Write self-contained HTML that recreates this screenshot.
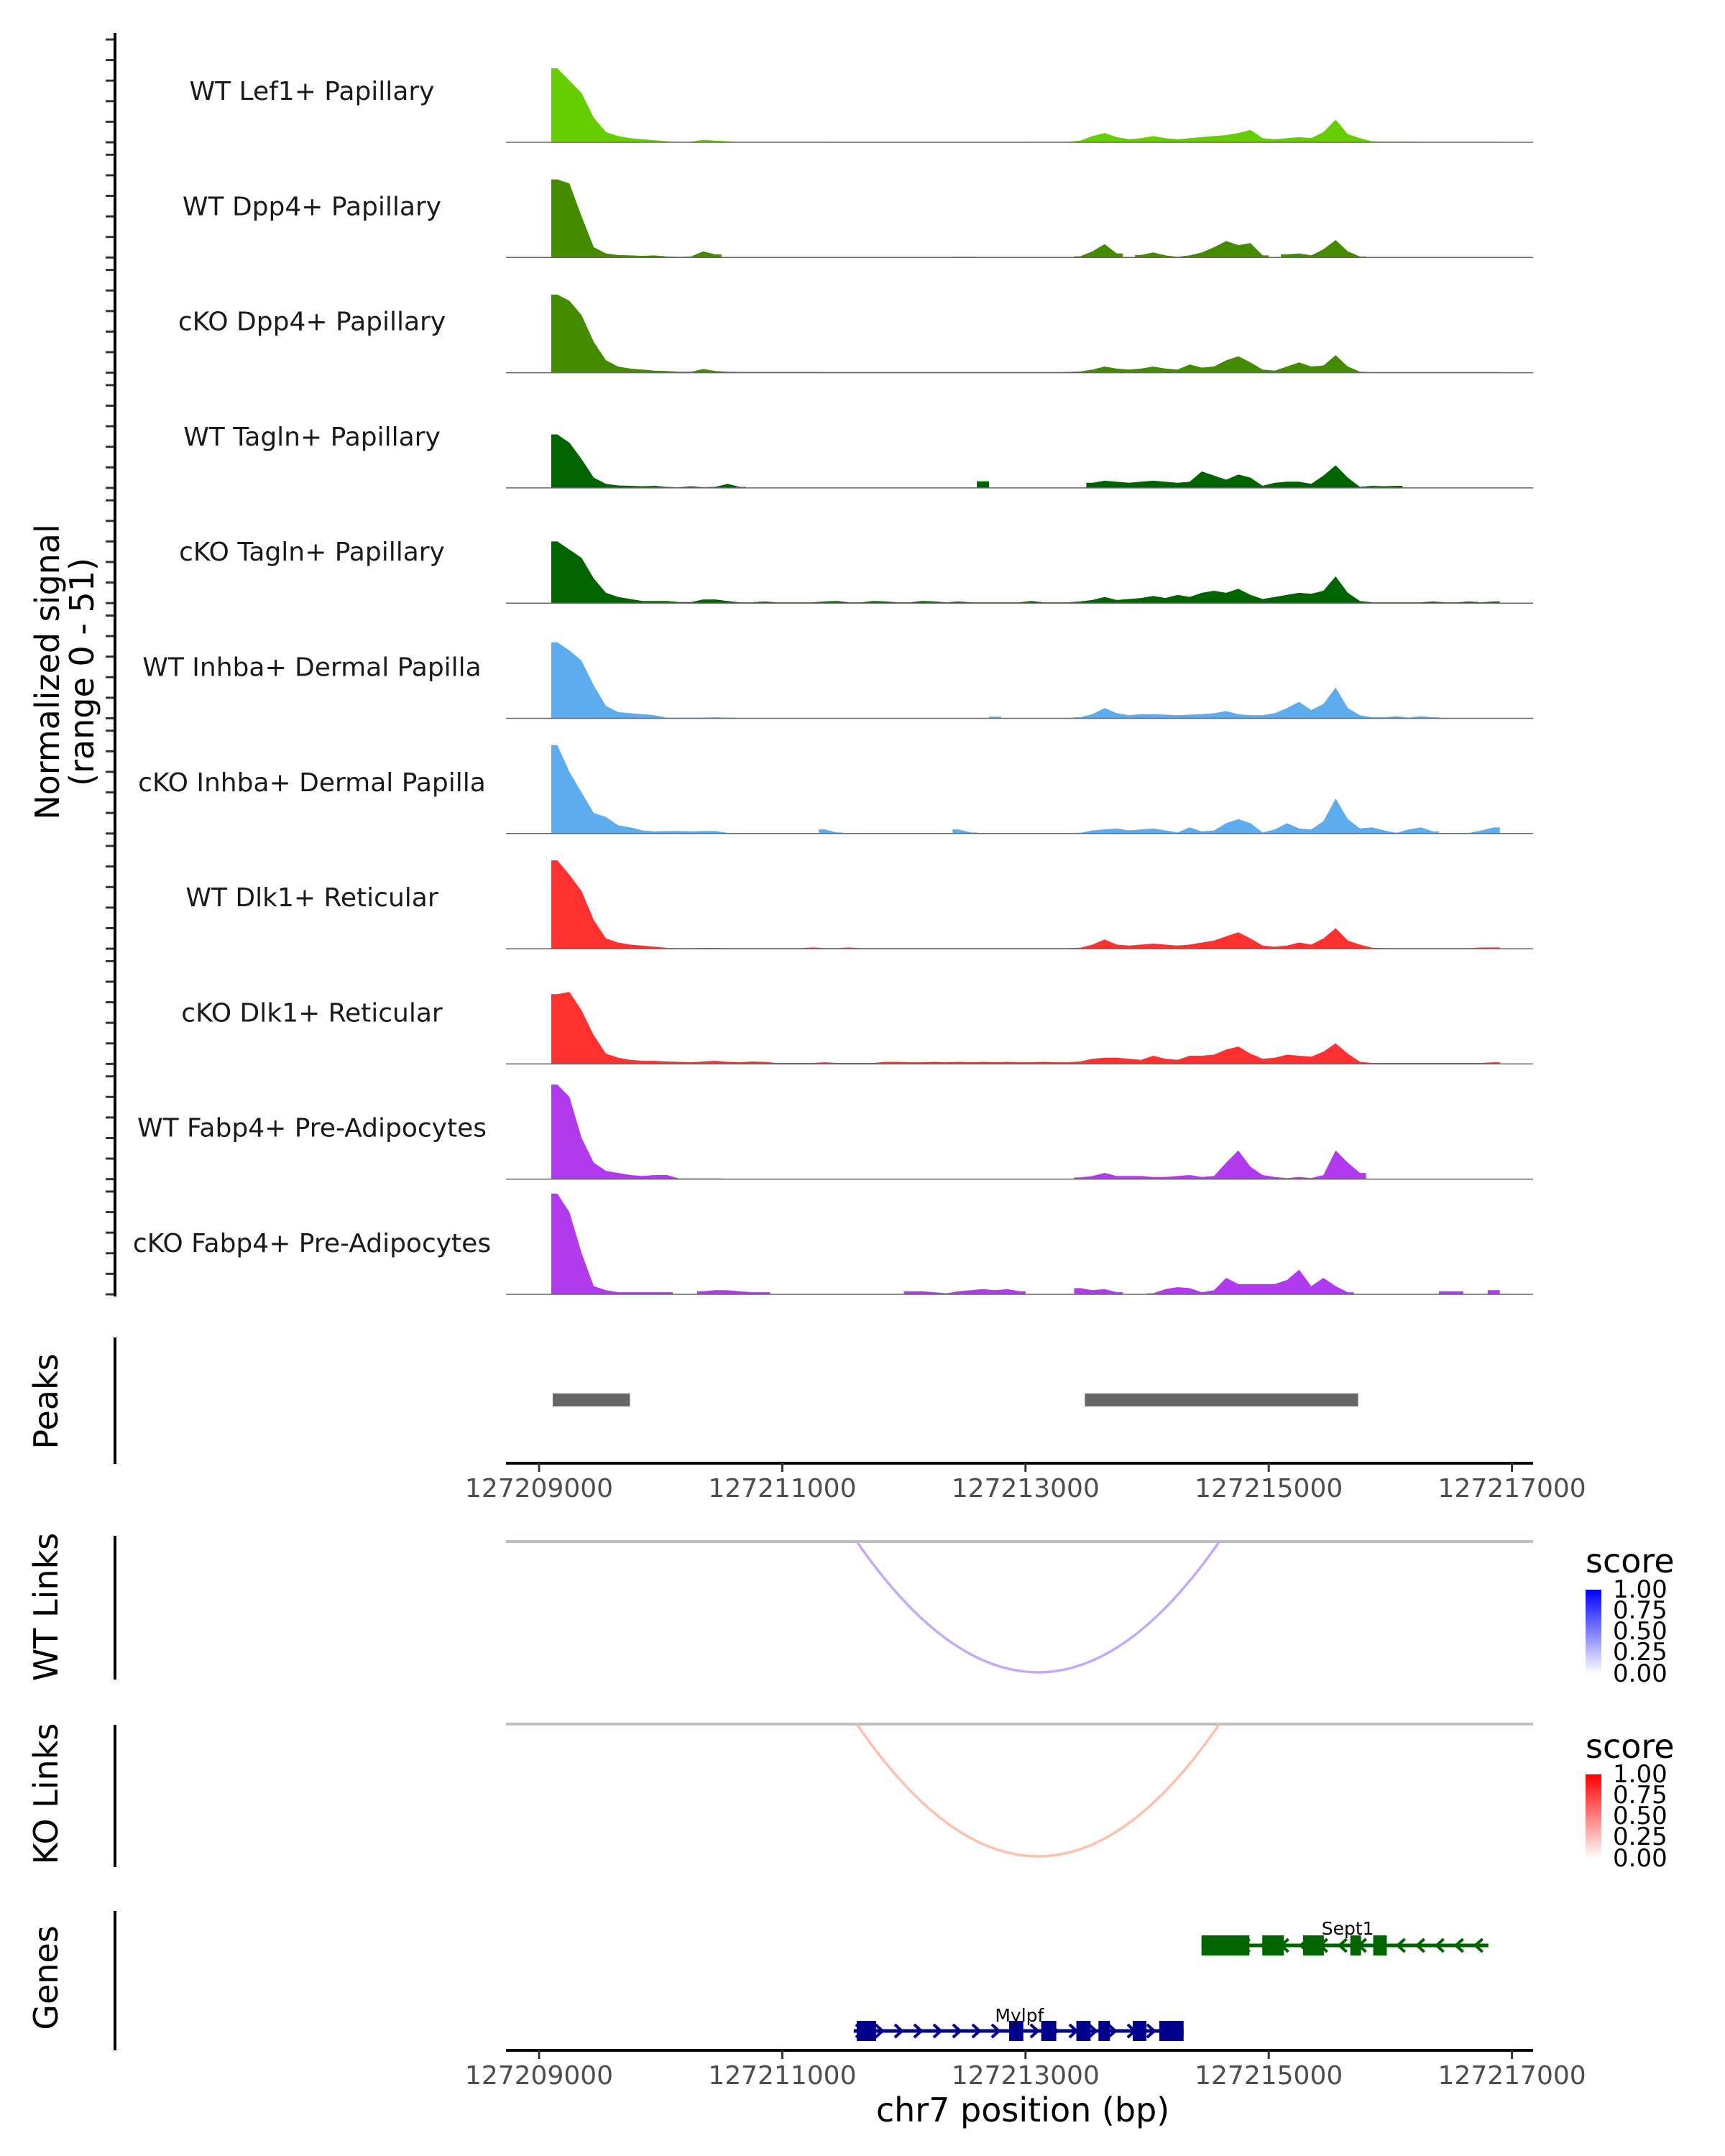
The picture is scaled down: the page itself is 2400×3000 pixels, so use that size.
<!DOCTYPE html>
<html><head><meta charset="utf-8"><style>
html,body{margin:0;padding:0;background:#fff;}
svg{display:block;font-family:"DejaVu Sans","Liberation Sans",sans-serif;}
</style></head><body>
<svg id="chart" width="2400" height="3000" viewBox="0 0 2400 3000" xmlns="http://www.w3.org/2000/svg">
<rect width="2400" height="3000" fill="#fff"/>
<g id="cov"></g>
<g id="static">
<text transform="translate(82,935) rotate(-90)" text-anchor="middle" font-size="46" fill="#000">Normalized signal</text>
<text transform="translate(130,935) rotate(-90)" text-anchor="middle" font-size="46" fill="#000">(range 0 - 51)</text>
<line x1="160" y1="46" x2="160" y2="1804" stroke="#000" stroke-width="4"/>
<text transform="translate(80,1950) rotate(-90)" text-anchor="middle" font-size="46">Peaks</text>
<line x1="160" y1="1861" x2="160" y2="2037" stroke="#000" stroke-width="4"/>
<text transform="translate(80,2236) rotate(-90)" text-anchor="middle" font-size="46">WT Links</text>
<line x1="160" y1="2137" x2="160" y2="2337" stroke="#000" stroke-width="4"/>
<text transform="translate(80,2496) rotate(-90)" text-anchor="middle" font-size="46">KO Links</text>
<line x1="160" y1="2400" x2="160" y2="2598" stroke="#000" stroke-width="4"/>
<text transform="translate(80,2752) rotate(-90)" text-anchor="middle" font-size="46">Genes</text>
<line x1="160" y1="2659" x2="160" y2="2853" stroke="#000" stroke-width="4"/>
<text x="1423" y="2952" text-anchor="middle" font-size="46">chr7 position (bp)</text>
<defs>
<linearGradient id="gB" x1="0" y1="1" x2="0" y2="0"><stop offset="0" stop-color="#ffffff"/><stop offset="1" stop-color="#0000ff"/></linearGradient>
<linearGradient id="gR" x1="0" y1="1" x2="0" y2="0"><stop offset="0" stop-color="#ffffff"/><stop offset="1" stop-color="#ff0000"/></linearGradient>
</defs>
<g>
<text x="2206" y="2188" font-size="46">score</text>
<rect x="2206" y="2212" width="22" height="117" fill="url(#gB)"/>
<g font-size="34" fill="#000">
<text x="2244" y="2223">1.00</text><text x="2244" y="2252">0.75</text><text x="2244" y="2281">0.50</text><text x="2244" y="2310">0.25</text><text x="2244" y="2340">0.00</text></g>
</g>
<g>
<text x="2206" y="2446" font-size="46">score</text>
<rect x="2206" y="2469" width="22" height="117" fill="url(#gR)"/>
<g font-size="34" fill="#000">
<text x="2244" y="2480">1.00</text><text x="2244" y="2509">0.75</text><text x="2244" y="2538">0.50</text><text x="2244" y="2567">0.25</text><text x="2244" y="2597">0.00</text></g>
</g>
</g>
</svg>
<script>
// ---- data ----
const trackNames = ["WT Lef1+ Papillary","WT Dpp4+ Papillary","cKO Dpp4+ Papillary","WT Tagln+ Papillary","cKO Tagln+ Papillary","WT Inhba+ Dermal Papilla","cKO Inhba+ Dermal Papilla","WT Dlk1+ Reticular","cKO Dlk1+ Reticular","WT Fabp4+ Pre-Adipocytes","cKO Fabp4+ Pre-Adipocytes"];
const binStart = 127209000;
const binSize = 100;
const sigLef1WT = [0,36,30,24,12,5,3,2,1.5,1, .5,.3,.3,1.2,.8,.5,.3,.3,.3,.3, .3,.3,.3,.3,.2,.2,.2,.2,.2,.2, .2,.2,.2,.2,.2,.2,.2,.2,.2,.2, .3,.3,.3,.3,.8,3,4.5,2.5,1.5,2, 3,2,1.5,2,2.5,3,3.5,4.5,6,2, 1.5,2,2.5,2,5,11,4,2,.5,.4, .4,.4,.3,.3,.3,.3,.3,.3,.3,0];
const sigDpp4WT = [0,38,36,20,5,2,1.2,1,.8,1, .5,.3,.5,3,1.5,0,0,0,0,0, 0,0,0,0,0,0,0,0,0,0, 0,0,0,0,.4,.4,0,0,0,0, 0,0,0,0,.6,3,6.5,2,0,1.2, 2.5,1,.3,1,2.5,5,8,6,7,1, 0,1.5,2,1,4,8.5,3,.5,0,0, 0,0,0,0,0,0,0,0,0,0];
const sigDpp4KO = [0,38,35,28,15,6,3,2,1.5,1, .8,.5,.5,1.8,.8,.5,.4,.4,.4,.4, .4,.4,.4,.3,.3,.3,.3,.3,.3,.3, .3,.3,.3,.3,.3,.3,.3,.3,.3,.3, .3,.3,.3,.4,.6,1.5,3,2,1.5,2, 3,2,1.5,4,2.5,3,6,8,5,1.5, 1,3,5,3,3.5,8.5,3,.5,.3,.3, .3,.3,.3,.3,.3,.3,.3,.3,.3,0];
const sigTaglnWT = [0,26,22,14,5,2,1.2,1,.8,1, .5,.3,.8,.3,.5,2,.5,0,0,0, 0,0,0,0,0,0,0,0,0,0, 0,0,0,0,0,0,3.2,0,0,0, 0,0,0,0,0,2.5,3.5,3,2.5,3, 3.5,3,2.5,3,8,6,4,6.5,5,1, 2.5,3,3,2,6,11,5,.5,1,.8, 1,0,0,0,0,0,0,0,0,0];
const sigTaglnKO = [0,30,26,22,12,5,3,2,1,1, 1,.5,.5,1.8,1.8,1,.4,.4,.8,.4, .4,.4,.4,.8,1,.4,.4,1,.8,.4, .4,1,.8,.4,.8,.4,.4,.4,.4,.4, 1,.4,.4,.4,.8,1.5,3,1.5,2,2.5, 3.5,2.5,4,3,5,6,5,7,4,2, 3,4,5,4.5,6,13,5,1,.4,.4, .4,.4,.4,.8,.4,.4,.8,.4,.8,0];
const sigInhbaWT = [0,37,33,28,16,6,3,2.5,2,1.5, .3,.3,.3,.3,.5,.3,0,0,0,0, 0,0,0,0,0,0,0,0,0,0, 0,0,0,0,0,0,0,.8,0,0, 0,0,0,0,.5,2,5,2.5,1.5,2, 2,1.8,1.5,1.8,2,2.5,3.5,2,1.5,1.5, 2.5,5,8,4,7,15,5,1.5,.5,.5, 1,.3,1,.5,0,0,0,0,0,0];
const sigInhbaKO = [0,43,30,20,10,8,4,3,1.5,1, 1.2,1.2,1,1.2,1.2,.3,0,0,0,0, .3,0,0,2,.5,0,0,0,0,0, 0,0,0,0,2,.5,0,0,0,0, 0,0,0,0,.3,1.5,2,2.5,1.5,2, 2.5,1.5,.5,3,1,1.5,5,7,5,.5, 2,5,2.5,2,6,17,7,2.5,3,1.5, .3,2,3,1,0,.3,.3,1.5,3,0];
const sigDlk1WT = [0,43,36,28,14,5,3,2,1.5,1, .4,.3,.3,.4,.4,.3,.3,.3,.3,.3, .3,.3,.6,.3,.3,.6,.3,.3,.3,.3, .3,.3,.3,.3,.3,.3,.3,.3,.3,.3, .3,.3,.3,.3,.5,2,4.5,2,1.5,2, 2.5,2,1.5,2,3,4,6,8,5,1.5, 1,1.5,3,2,5,10,4,2,.5,.3, .3,.3,.3,.3,.3,.3,.3,.6,.6,0];
const sigDlk1KO = [0,34,35,26,14,5,3,2,1.5,1.5, 1.2,1,.8,1.2,1.5,1,.8,1.2,1,.5, .5,.5,.5,.8,.5,.5,.5,.5,1,1, .8,.8,1,.8,1,.8,1,.8,1,.8, .8,1,.8,.8,1.2,2.5,3,3,2.5,2, 4,2.5,2,4,4,4.5,7,8.5,5,2.5, 3,4.5,4,3.5,6,10,5,1,.5,.5, .5,.5,.5,.5,.5,.5,.5,.5,.8,0];
const sigFabp4WT = [0,46,40,20,8,4,3,2,1.5,2, 2,.3,.3,.3,.3,0,0,0,0,0, 0,0,0,0,0,0,0,0,0,0, 0,0,0,0,0,0,0,0,0,0, 0,0,0,0,.8,1.5,3,1.5,1.5,1.5, 1,1,1.5,2,1,1.5,8,14,6,2, 1,.5,1,.5,2,14,8,3,0,0, 0,0,0,0,0,0,0,0,0,0];
const sigFabp4KO = [0,49,40,20,4,2,1,1,1,1, 1,0,0,1.5,2,2,1.5,1,1,0, 0,0,0,0,0,0,0,0,0,0, 1.5,1.5,1,.5,1.5,2,2.5,2,2.5,1.5, 0,0,0,0,3,2,2.5,1,0,0, .5,2.5,3.5,3,1,2,8,5,5,5, 5,7,12,4,8,4,1,0,0,0, 0,0,0,0,1.5,1.5,0,0,2,0];
const trackColors = ["#66cd00","#458b00","#458b00","#006400","#006400","#5cacee","#5cacee","#ff3030","#ff3030","#b23aee","#b23aee"];
const signalTicks = [0,10,20,30,40,50];
const xTicks = [127209000,127211000,127213000,127215000,127217000];
const peakStarts = [127209112,127213488];
const peakEnds = [127209747,127215735];
const wtLinkStart = [127211612];
const wtLinkEnd = [127214594];
const wtLinkScore = [0.35];
const koLinkStart = [127211612];
const koLinkEnd = [127214594];
const koLinkScore = [0.35];
const geneNames = ["Sept1","Mylpf"];
const geneStarts = [127214447,127211588];
const geneEnds = [127216806,127214300];
const geneStrands = ["-","+"];
const sept1ExonStarts = [127214447,127214947,127215282,127215671,127215859];
const sept1ExonEnds = [127214841,127215124,127215453,127215759,127215971];
const mylpfExonStarts = [127211612,127212865,127213129,127213418,127213600,127213882,127214100];
const mylpfExonEnds = [127211771,127212982,127213253,127213535,127213694,127213994,127214300];

// ---- scales ----
const X0 = 750, PXBP = 0.1692;
function xs(bp){ return X0 + (bp - 127209000) * PXBP; }
const BASE0 = 198, TRACK_STEP = 160.3, PX_PER_UNIT = 2.86;
function ys(i, v){ return BASE0 + TRACK_STEP * i - v * PX_PER_UNIT; }
const PANEL_L = 704, PANEL_R = 2133;
const NS = "http://www.w3.org/2000/svg";
const svg = document.getElementById('chart');
const cov = document.getElementById('cov');
function mk(tag, attrs, parent){ const e = document.createElementNS(NS, tag); for (const k in attrs) e.setAttribute(k, attrs[k]); (parent||svg).appendChild(e); return e; }

const allSignals = [sigLef1WT,sigDpp4WT,sigDpp4KO,sigTaglnWT,sigTaglnKO,sigInhbaWT,sigInhbaKO,sigDlk1WT,sigDlk1KO,sigFabp4WT,sigFabp4KO];

allSignals.forEach((sig, i) => {
  const base = ys(i, 0);
  const g = mk('g', {}, cov);
  
  
  let d = 'M' + xs(binStart).toFixed(1) + ' ' + base;
  sig.forEach((v, j) => {
    const xa = xs(binStart + j*binSize), xc = xs(binStart + (j+0.5)*binSize);
    const y = ys(i, v);
    const prev = j > 0 ? sig[j-1] : 0;
    if (prev === 0 && v > 0) {
      d += ' L' + xa.toFixed(1) + ' ' + base + ' L' + xa.toFixed(1) + ' ' + y.toFixed(1);
    } else if (v === 0 && prev > 0) {
      d += ' L' + xa.toFixed(1) + ' ' + ys(i, prev).toFixed(1) + ' L' + xa.toFixed(1) + ' ' + base;
    }
    d += ' L' + xc.toFixed(1) + ' ' + y.toFixed(1);
  });
  d += ' L' + xs(binStart + sig.length*binSize).toFixed(1) + ' ' + base + ' Z';
  const area = mk('path', {d: d, fill: trackColors[i], stroke: 'none'}, g);
  
  
  const bl = mk('line', {x1: PANEL_L, x2: PANEL_R, y1: base, y2: base, stroke: '#666', 'stroke-width': 1.5}, g);
  
  
  const lab = mk('text', {x: 434, y: base - 59, 'text-anchor': 'middle', 'font-size': 36, fill: '#1a1a1a'}, g);
  lab.textContent = trackNames[i];
  
  
  signalTicks.forEach(t => {
    const ty = ys(i, t);
    const tk = mk('line', {x1: 147, x2: 160, y1: ty, y2: ty, stroke: '#333', 'stroke-width': 3}, g);
    
    
  });
});

// peaks
peakStarts.forEach((s, i) => {
  const r = mk('rect', {x: xs(s), y: 1939, width: xs(peakEnds[i]) - xs(s), height: 18, fill: '#666'});
  
  
});

// x axes
[2036, 2853].forEach((ay, k) => {
  const ax = mk('line', {x1: PANEL_L, x2: PANEL_R, y1: ay, y2: ay, stroke: '#000', 'stroke-width': 4});
  
  
  xTicks.forEach(t => {
    const tk = mk('line', {x1: xs(t), x2: xs(t), y1: ay, y2: ay + 12, stroke: '#333', 'stroke-width': 3});
    
    
    const tl = mk('text', {x: xs(t), y: ay + 47, 'text-anchor': 'middle', 'font-size': 36, fill: '#4d4d4d'});
    tl.textContent = t;
    
    
  });
});

// links
function drawLinks(starts, ends, scores, lineY, depth, col, nm){
  const gl = mk('line', {x1: PANEL_L, x2: PANEL_R, y1: lineY, y2: lineY, stroke: '#bebebe', 'stroke-width': 4});
  
  
  starts.forEach((s, i) => {
    const a = xs(s), b = xs(ends[i]);
    const p = mk('path', {d: 'M' + a + ' ' + lineY + ' Q' + ((a+b)/2) + ' ' + (lineY + 2*depth) + ' ' + b + ' ' + lineY, fill: 'none', stroke: col, 'stroke-width': 3.5});
    
    
  });
}
drawLinks(wtLinkStart, wtLinkEnd, wtLinkScore, 2145, 182, '#c4a8ff', 'wt-link');
drawLinks(koLinkStart, koLinkEnd, koLinkScore, 2399, 184, '#ffbfab', 'ko-link');

// genes
function drawGene(idx, exS, exE, y, col){
  const g = mk('g', {});
  
  
  const a = xs(geneStarts[idx]), b = xs(geneEnds[idx]);
  mk('line', {x1: a, x2: b, y1: y, y2: y, stroke: col, 'stroke-width': 5}, g);
  const dir = geneStrands[idx] === '+' ? 1 : -1;
  for (let x = a + 8; x <= b - 4; x += 27) {
    const ch = mk('path', {d: 'M' + (x - 5*dir) + ' ' + (y-9) + ' L' + (x + 5*dir) + ' ' + y + ' L' + (x - 5*dir) + ' ' + (y+9), fill: 'none', stroke: col, 'stroke-width': 4}, g);
    
    
  }
  exS.forEach((s, i) => {
    const r = mk('rect', {x: xs(s), y: y - 14, width: xs(exE[i]) - xs(s), height: 28, fill: col}, g);
    
    
  });
  return g;
}
drawGene(0, sept1ExonStarts, sept1ExonEnds, 2707, '#006400');
drawGene(1, mylpfExonStarts, mylpfExonEnds, 2826, '#00008b');
const l1 = mk('text', {x: xs(127215650), y: 2692, 'text-anchor': 'middle', 'font-size': 25, fill: '#000'});
l1.textContent = 'Sept1';


const l2 = mk('text', {x: xs(127212950), y: 2813, 'text-anchor': 'middle', 'font-size': 25, fill: '#000'});
l2.textContent = 'Mylpf';


</script>
</body></html>
